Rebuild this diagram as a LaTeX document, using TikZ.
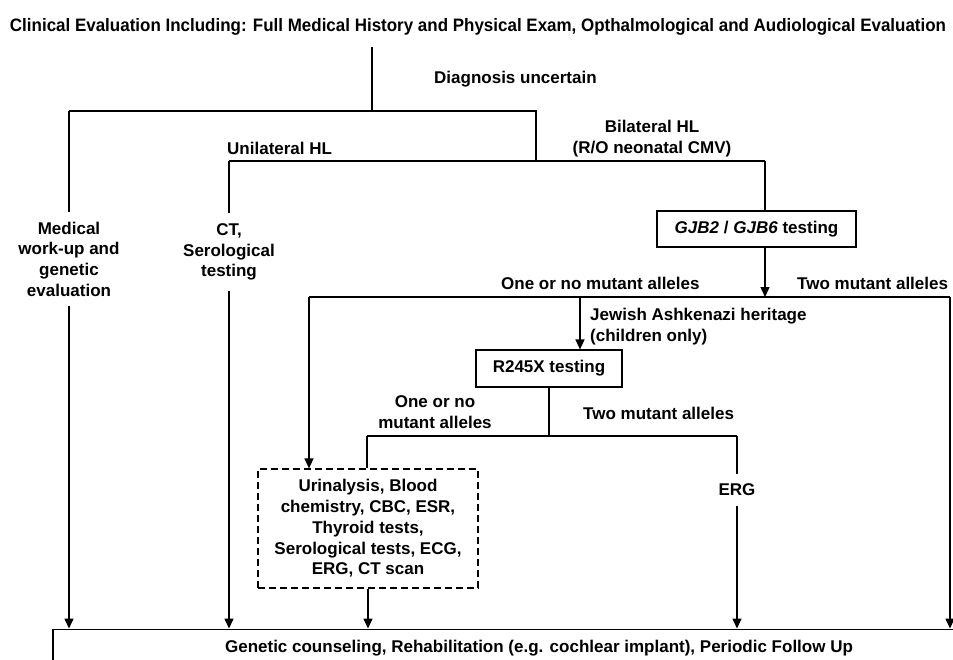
\documentclass[tikz,border=0pt]{standalone}
\usepackage{fontspec}
\usepackage{graphicx}
\setmainfont{Liberation Sans}
\usetikzlibrary{arrows.meta}
\newcommand\myfont{\fontsize{17}{20.7}\selectfont\bfseries}
\newcommand\ttlfont{\fontsize{18}{20}\selectfont\bfseries}
\begin{document}
\begin{tikzpicture}[x=1pt,y=-1pt,
  line/.style={line width=1.5pt},
  arr/.style={line width=1.5pt,-{Triangle[width=9pt,length=10pt]}},
  lbl/.style={font=\myfont, inner sep=0pt},
  thru/.style={font=\myfont, align=center, inner xsep=0pt, inner ysep=10pt},
  boxed/.style={draw, line width=1.2pt, font=\myfont, inner sep=0pt},
  dashbox/.style={boxed, dash pattern=on 7pt off 4pt},
]
\useasboundingbox (0,0) rectangle (953,659);
\fill[white] (0,0) rectangle (953,659);

\node[font=\ttlfont, anchor=base, inner sep=0pt] (ttl) at (478,31)
  {\resizebox{936pt}{\height}{Clinical Evaluation Including: Full Medical History and Physical Exam, Opthalmological and Audiological Evaluation}};

\coordinate (c0) at (372,47);
\coordinate (c1) at (372,111);
\coordinate (l1) at (69,111);
\coordinate (r1) at (536,111);
\coordinate (r2) at (536,161);
\coordinate (l2) at (229,161);
\coordinate (b2) at (765,161);

\node[lbl, anchor=base west] (diag) at (434,83) {Diagnosis uncertain};
\node[lbl, anchor=base west] (uni) at (227,154) {Unilateral HL};
\node[lbl, align=center] (bil) at (652,138.5) {Bilateral HL\\(R/O neonatal CMV)};
\node[thru] (med) at (69,259) {Medical\\work-up and\\genetic\\evaluation};
\node[thru] (ct) at (229,252) {CT,\\Serological\\testing};
\node[boxed, minimum width=199pt, minimum height=36pt] (gjb) at (756.5,229)
  {\textit{GJB2} / \textit{GJB6} testing};

\coordinate (g3) at (765,297);
\coordinate (l3) at (309,297);
\coordinate (r3) at (950,297);
\coordinate (m3) at (580,297);
\node[lbl, anchor=base west] (one) at (501,289) {One or no mutant alleles};
\node[lbl, anchor=base west] (two) at (797,289) {Two mutant alleles};
\node[lbl, align=left, anchor=west] (jew) at (590,326.6) {Jewish Ashkenazi heritage\\(children only)};
\node[boxed, minimum width=146pt, minimum height=37pt] (r245) at (549,368.5) {R245X testing};

\coordinate (c4) at (549,436);
\coordinate (l4) at (367,436);
\coordinate (e4) at (737,436);
\node[lbl, align=center] (one2) at (435,412.4) {One or no\\mutant alleles};
\node[lbl, anchor=base west] (two2) at (583,419) {Two mutant alleles};
\node[dashbox, minimum width=220pt, minimum height=119pt, align=center] (lab) at (368,528.5)
  {Urinalysis, Blood\\chemistry, CBC, ESR,\\Thyroid tests,\\Serological tests, ECG,\\ERG, CT scan};
\node[thru] (erg) at (737,490) {ERG};

\node[draw, line width=1.2pt, font=\myfont, inner sep=0pt, minimum width=972pt, minimum height=39pt] (fin) at (539,648.6)
  {Genetic counseling, Rehabilitation (e.g. cochlear implant), Periodic Follow Up};

\draw[line] (c0) -- (c1);
\draw[line] (l1) -- (r1) -- (r2);
\draw[line] (l1) -- (med.north);
\draw[arr] (med.south) -- (med.south |- fin.north);
\draw[line] (l2) -- (b2);
\draw[line] (l2) -- (ct.north);
\draw[arr] (ct.south) -- (ct.south |- fin.north);
\draw[line] (b2) -- (b2 |- gjb.north);
\draw[arr] (b2 |- gjb.south) -- (g3);
\draw[line] (l3) -- (r3);
\draw[arr] (m3) -- (m3 |- r245.north);
\draw[arr] (l3) -- (l3 |- lab.north);
\draw[arr] (r3) -- (r3 |- fin.north);
\draw[line] (r245.south) -- (c4);
\draw[line] (l4) -- (e4);
\draw[line] (l4) -- (l4 |- lab.north);
\draw[line] (e4) -- (erg.north);
\draw[arr] (erg.south) -- (erg.south |- fin.north);
\draw[arr] (lab.south) -- (lab.south |- fin.north);
\end{tikzpicture}
\end{document}
